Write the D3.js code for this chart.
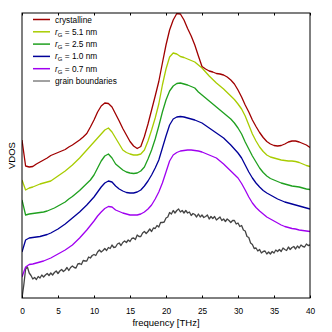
<!DOCTYPE html>
<html lang="en">
<head>
<meta charset="UTF-8">
<title>VDOS</title>
<style>
  body { margin: 0; background: #fff; }
  svg { display: block; font-family: "Liberation Sans", Arial, sans-serif; }
</style>
</head>
<body>
<script src="https://d3js.org/d3.v7.min.js"></script>
<script>
// frequency grid [THz]
const freq = [
  0, 0.5, 1, 1.5, 2, 2.5, 3, 3.5, 4, 4.5,
  5, 5.5, 6, 6.5, 7, 7.5, 8, 8.5, 9, 9.5,
  10, 10.5, 11, 11.5, 12, 12.5, 13, 13.5, 14, 14.5,
  15, 15.5, 16, 16.5, 17, 17.5, 18, 18.5, 19, 19.5,
  20, 20.5, 21, 21.5, 22, 22.5, 23, 23.5, 24, 24.5,
  25, 25.5, 26, 26.5, 27, 27.5, 28, 28.5, 29, 29.5,
  30, 30.5, 31, 31.5, 32, 32.5, 33, 33.5, 34, 34.5,
  35, 35.5, 36, 36.5, 37, 37.5, 38, 38.5, 39, 39.5,
  40
];

// VDOS (arb. units, curves shifted vertically as in the figure)
const crystalline = [
  3.16, 2.64, 2.62, 2.63, 2.68, 2.72, 2.76, 2.80, 2.85, 2.88,
  2.91, 2.94, 2.97, 3.02, 3.06, 3.11, 3.16, 3.22, 3.29, 3.42,
  3.56, 3.72, 3.84, 3.90, 3.89, 3.82, 3.68, 3.54, 3.39, 3.26,
  3.13, 3.04, 2.99, 3.03, 3.23, 3.48, 3.76, 4.04, 4.33, 4.70,
  5.06, 5.36, 5.56, 5.69, 5.68, 5.56, 5.39, 5.24, 5.06, 4.84,
  4.63, 4.58, 4.54, 4.52, 4.49, 4.48, 4.46, 4.42, 4.36, 4.28,
  4.16, 4.02, 3.86, 3.72, 3.56, 3.43, 3.31, 3.21, 3.13, 3.08,
  3.05, 3.04, 3.05, 3.08, 3.12, 3.14, 3.14, 3.12, 3.09, 3.06,
  3.01
];
const rg51 = [
  2.36, 2.16, 2.20, 2.22, 2.25, 2.28, 2.30, 2.32, 2.34, 2.39,
  2.44, 2.49, 2.54, 2.60, 2.66, 2.73, 2.80, 2.88, 2.96, 3.04,
  3.12, 3.20, 3.28, 3.36, 3.40, 3.32, 3.20, 3.08, 2.96, 2.91,
  2.88, 2.86, 2.86, 2.88, 2.96, 3.14, 3.36, 3.60, 3.88, 4.26,
  4.58, 4.82, 4.90, 4.88, 4.83, 4.81, 4.78, 4.75, 4.72, 4.66,
  4.60, 4.52, 4.44, 4.37, 4.30, 4.24, 4.18, 4.11, 4.04, 3.97,
  3.88, 3.78, 3.64, 3.46, 3.28, 3.14, 3.02, 2.93, 2.86, 2.82,
  2.80, 2.78, 2.76, 2.75, 2.74, 2.74, 2.73, 2.71, 2.68, 2.65,
  2.63
];
const rg25 = [
  1.96, 1.66, 1.68, 1.69, 1.70, 1.71, 1.72, 1.74, 1.77, 1.80,
  1.84, 1.88, 1.92, 1.98, 2.03, 2.09, 2.15, 2.22, 2.29, 2.36,
  2.46, 2.60, 2.74, 2.84, 2.88, 2.80, 2.68, 2.62, 2.56, 2.52,
  2.50, 2.49, 2.50, 2.54, 2.62, 2.78, 2.96, 3.18, 3.44, 3.72,
  3.96, 4.14, 4.24, 4.29, 4.30, 4.28, 4.26, 4.23, 4.20, 4.12,
  4.06, 4.00, 3.94, 3.88, 3.82, 3.76, 3.70, 3.64, 3.58, 3.50,
  3.40, 3.28, 3.12, 2.98, 2.84, 2.72, 2.60, 2.51, 2.44, 2.39,
  2.36, 2.33, 2.30, 2.28, 2.26, 2.24, 2.23, 2.22, 2.20, 2.18,
  2.17
];
const rg10 = [
  0.92, 1.16, 1.20, 1.21, 1.22, 1.23, 1.25, 1.27, 1.30, 1.34,
  1.38, 1.43, 1.48, 1.54, 1.60, 1.66, 1.72, 1.79, 1.86, 1.94,
  2.02, 2.12, 2.22, 2.30, 2.34, 2.32, 2.24, 2.18, 2.14, 2.11,
  2.10, 2.10, 2.12, 2.16, 2.24, 2.34, 2.46, 2.60, 2.76, 3.00,
  3.24, 3.46, 3.58, 3.62, 3.63, 3.62, 3.60, 3.58, 3.56, 3.53,
  3.50, 3.45, 3.40, 3.35, 3.30, 3.25, 3.20, 3.13, 3.06, 2.98,
  2.90, 2.80, 2.66, 2.52, 2.40, 2.30, 2.22, 2.15, 2.10, 2.06,
  2.02, 1.98, 1.95, 1.92, 1.90, 1.88, 1.86, 1.84, 1.82, 1.80,
  1.78
];
const rg07 = [
  0.42, 0.62, 0.67, 0.68, 0.70, 0.72, 0.74, 0.77, 0.80, 0.84,
  0.88, 0.92, 0.96, 1.01, 1.06, 1.13, 1.20, 1.28, 1.36, 1.45,
  1.54, 1.64, 1.72, 1.79, 1.83, 1.82, 1.76, 1.73, 1.70, 1.68,
  1.66, 1.66, 1.66, 1.68, 1.72, 1.78, 1.86, 1.98, 2.12, 2.30,
  2.52, 2.74, 2.86, 2.91, 2.94, 2.95, 2.96, 2.96, 2.95, 2.94,
  2.92, 2.89, 2.86, 2.83, 2.80, 2.74, 2.68, 2.61, 2.54, 2.47,
  2.40, 2.29, 2.16, 2.02, 1.90, 1.81, 1.74, 1.68, 1.62, 1.58,
  1.54, 1.50, 1.46, 1.43, 1.41, 1.39, 1.38, 1.36, 1.35, 1.34,
  1.33
];

// grain boundaries are noisy, read on a finer grid
const freqGB = [
  0, 0.25, 0.5, 0.75, 1, 1.25, 1.5, 1.75, 2, 2.25, 2.5, 2.75, 3, 3.25, 3.5, 3.75, 4, 4.25, 4.5, 4.75,
  5, 5.25, 5.5, 5.75, 6, 6.25, 6.5, 6.75, 7, 7.25, 7.5, 7.75, 8, 8.25, 8.5, 8.75, 9, 9.25, 9.5, 9.75,
  10, 10.25, 10.5, 10.75, 11, 11.25, 11.5, 11.75, 12, 12.25, 12.5, 12.75, 13, 13.25, 13.5, 13.75, 14, 14.25, 14.5, 14.75,
  15, 15.25, 15.5, 15.75, 16, 16.25, 16.5, 16.75, 17, 17.25, 17.5, 17.75, 18, 18.25, 18.5, 18.75, 19, 19.25, 19.5, 19.75,
  20, 20.25, 20.5, 20.75, 21, 21.25, 21.5, 21.75, 22, 22.25, 22.5, 22.75, 23, 23.25, 23.5, 23.75, 24, 24.25, 24.5, 24.75,
  25, 25.25, 25.5, 25.75, 26, 26.25, 26.5, 26.75, 27, 27.25, 27.5, 27.75, 28, 28.25, 28.5, 28.75, 29, 29.25, 29.5, 29.75,
  30, 30.25, 30.5, 30.75, 31, 31.25, 31.5, 31.75, 32, 32.25, 32.5, 32.75, 33, 33.25, 33.5, 33.75, 34, 34.25, 34.5, 34.75,
  35, 35.25, 35.5, 35.75, 36, 36.25, 36.5, 36.75, 37, 37.25, 37.5, 37.75, 38, 38.25, 38.5, 38.75, 39, 39.25, 39.5, 39.75,
  40
];
const grainBoundaries = [
  0.00, 0.26, 0.58, 0.62, 0.50, 0.45, 0.38, 0.41, 0.37, 0.43, 0.40, 0.46, 0.42, 0.46, 0.49, 0.45, 0.50, 0.46, 0.51, 0.54,
  0.49, 0.54, 0.57, 0.53, 0.56, 0.61, 0.55, 0.61, 0.64, 0.61, 0.60, 0.68, 0.69, 0.67, 0.75, 0.74, 0.74, 0.82, 0.80, 0.85,
  0.87, 0.85, 0.92, 0.96, 0.92, 0.95, 0.99, 0.95, 1.01, 0.99, 1.06, 1.01, 1.02, 1.08, 1.10, 1.05, 1.11, 1.14, 1.11, 1.16,
  1.13, 1.19, 1.20, 1.17, 1.26, 1.23, 1.23, 1.30, 1.33, 1.29, 1.33, 1.38, 1.33, 1.40, 1.39, 1.45, 1.42, 1.51, 1.51, 1.52,
  1.60, 1.62, 1.71, 1.68, 1.75, 1.70, 1.75, 1.78, 1.72, 1.75, 1.70, 1.75, 1.70, 1.72, 1.65, 1.69, 1.67, 1.62, 1.68, 1.62,
  1.66, 1.61, 1.63, 1.66, 1.58, 1.63, 1.59, 1.63, 1.56, 1.59, 1.62, 1.55, 1.58, 1.53, 1.58, 1.55, 1.51, 1.55, 1.55, 1.48,
  1.50, 1.43, 1.45, 1.36, 1.34, 1.23, 1.21, 1.10, 1.07, 0.99, 1.00, 0.94, 0.97, 0.90, 0.93, 0.94, 0.88, 0.92, 0.88, 0.93,
  0.90, 0.96, 0.93, 0.97, 0.93, 1.00, 0.97, 0.95, 1.02, 0.97, 1.01, 1.03, 0.98, 1.04, 1.00, 1.06, 1.03, 1.02, 1.08, 1.05,
  1.06
];

const xTicks = [0, 5, 10, 15, 20, 25, 30, 35, 40];
const radii = ['5.1', '2.5', '1.0', '0.7'];

const series = [
  { name: 'crystalline', x: freq, y: crystalline, color: '#a00000' },
  { name: 'rg', r: radii[0], x: freq, y: rg51, color: '#a8cc00' },
  { name: 'rg', r: radii[1], x: freq, y: rg25, color: '#1fa01f' },
  { name: 'rg', r: radii[2], x: freq, y: rg10, color: '#000099' },
  { name: 'rg', r: radii[3], x: freq, y: rg07, color: '#a000f0' },
  { name: 'grain boundaries', x: freqGB, y: grainBoundaries, color: '#444444' }
];

const W = 332, H = 332;
const plotL = 22, plotR = 310, plotT = 13, plotB = 298;

const svg = d3.select('body')
  .append('svg')
  .attr('width', W)
  .attr('height', H);

const x = d3.scaleLinear().domain([0, 40]).range([plotL, plotR]);
const y = d3.scaleLinear().domain([0, 5.7]).range([plotB, plotT]);

svg.append('clipPath').attr('id', 'plot')
  .append('rect')
  .attr('x', plotL).attr('y', plotT)
  .attr('width', plotR - plotL).attr('height', plotB - plotT);

const line = d3.line()
  .x(d => x(d[0]))
  .y(d => y(d[1]));

// draw back to front so crystalline sits on top
svg.append('g')
  .attr('clip-path', 'url(#plot)')
  .selectAll('path')
  .data(series.slice().reverse())
  .enter()
  .append('path')
  .attr('d', s => line(s.x.map((f, i) => [f, s.y[i]])))
  .attr('fill', 'none')
  .attr('stroke', s => s.color)
  .attr('stroke-width', 1.3)
  .attr('stroke-linejoin', 'round');

// axes, ticks pointing inward
const xAxis = svg.append('g')
  .attr('transform', `translate(0,${plotB})`)
  .call(d3.axisBottom(x).tickValues(xTicks).tickSize(-2.5).tickPadding(10.5));
xAxis.select('.domain').remove();
xAxis.selectAll('text').attr('font-size', 8.3).attr('fill', '#000');

const xTop = svg.append('g')
  .attr('transform', `translate(0,${plotT})`)
  .call(d3.axisTop(x).tickValues(xTicks).tickSize(-2.5).tickFormat(''));
xTop.select('.domain').remove();

svg.append('rect')
  .attr('x', plotL).attr('y', plotT)
  .attr('width', plotR - plotL).attr('height', plotB - plotT)
  .attr('fill', 'none')
  .attr('stroke', '#000')
  .attr('stroke-width', 1);

svg.append('text')
  .attr('x', (plotL + plotR) / 2)
  .attr('y', 326)
  .attr('text-anchor', 'middle')
  .attr('font-size', 9.5)
  .text('frequency [THz]');

svg.append('text')
  .attr('transform', `translate(15,${(plotT + plotB) / 2}) rotate(-90)`)
  .attr('text-anchor', 'middle')
  .attr('font-size', 9.5)
  .text('VDOS');

// legend
const legend = svg.append('g');
const rows = legend.selectAll('g')
  .data(series)
  .enter()
  .append('g')
  .attr('transform', (d, i) => `translate(0,${19.5 + i * 12.3})`);

rows.append('line')
  .attr('x1', 33).attr('x2', 50)
  .attr('y1', 0).attr('y2', 0)
  .attr('stroke', d => d.color)
  .attr('stroke-width', d => d.name === 'grain boundaries' ? 1 : 1.5);

const labels = rows.append('text')
  .attr('x', 55)
  .attr('y', 3)
  .attr('font-size', 8.3);

labels.each(function (d) {
  const t = d3.select(this);
  if (d.name === 'rg') {
    t.append('tspan').attr('font-style', 'italic').text('r');
    t.append('tspan').attr('font-size', 6).attr('dy', 2).text('G');
    t.append('tspan').attr('dy', -2).text(` = ${d.r} nm`);
  } else {
    t.text(d.name);
  }
});
</script>
</body>
</html>
